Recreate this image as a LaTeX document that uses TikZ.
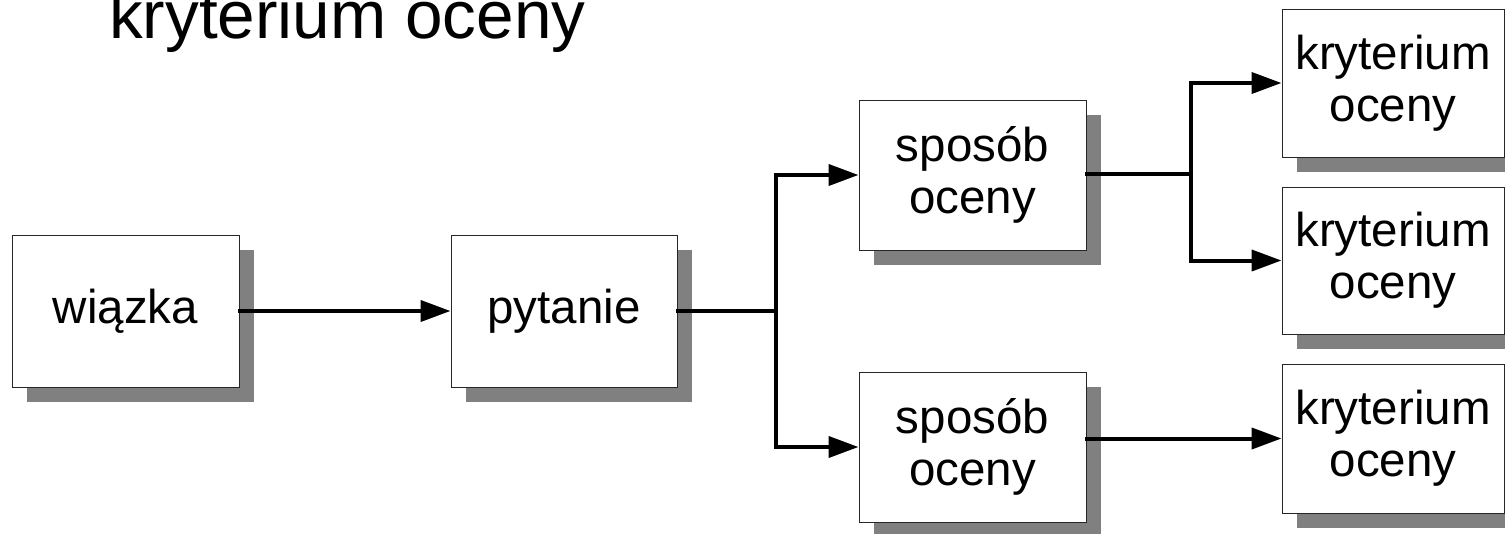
\documentclass[tikz,border=0pt]{standalone}
\usepackage{fontspec}
\setmainfont{Liberation Sans}
\usetikzlibrary{arrows.meta,shadows,calc}
\definecolor{shadowgray}{RGB}{128,128,128}
\begin{document}
\begin{tikzpicture}[x=1pt,y=-1pt,
  box/.style={draw=black!85,line width=1pt,fill=white,align=center,
    inner sep=0pt,font=\fontsize{47.5}{52}\selectfont,
    drop shadow={shadow xshift=15pt,shadow yshift=-15pt,fill=shadowgray,opacity=1}},
  conn/.style={line width=4pt,line cap=rect},
  arr/.style={conn,-{Triangle[length=30pt,width=21pt]}}]
\useasboundingbox (0,0) rectangle (1505,533);
\node[anchor=base west,inner sep=0pt,font=\fontsize{67.5}{70}\selectfont] (title) at (109,38) {kryterium oceny};
\node[box,minimum width=227pt,minimum height=152pt] (w) at (125.5,311) {wiązka};
\node[box,minimum width=226pt,minimum height=152pt] (p) at (564,311) {pytanie};
\node[box,minimum width=227pt,minimum height=150pt] (s1) at (972.5,175) {sposób\\oceny};
\node[box,minimum width=227pt,minimum height=150pt] (s2) at (972.5,447) {sposób\\oceny};
\node[box,minimum width=222pt,minimum height=148pt] (k1) at (1393,83) {kryterium\\oceny};
\node[box,minimum width=222pt,minimum height=147pt] (k2) at (1393,260.5) {kryterium\\oceny};
\node[box,minimum width=222pt,minimum height=149pt] (k3) at (1393,438.5) {kryterium\\oceny};
\coordinate (b1) at (776,311);
\coordinate (b2) at (1191,174);
\draw[arr] (w) -- (p);
\draw[conn] (p.east) -- (b1);
\draw[arr] (b1) |- (s1.west);
\draw[arr] (b1) |- (s2.west);
\draw[conn] (s1.east |- b2) -- (b2);
\draw[arr] (b2) |- (k1.west);
\draw[arr] (b2) |- (k2.west);
\draw[arr] (s2.east |- k3.west) -- (k3.west);
\end{tikzpicture}
\end{document}
